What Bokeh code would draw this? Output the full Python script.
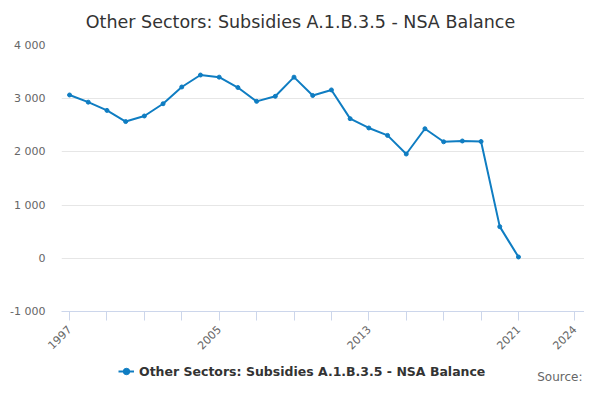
from bokeh.plotting import figure
from bokeh.layouts import column
from bokeh.models import ColumnDataSource, FixedTicker, Legend, LegendItem, Label, Range1d
from bokeh.embed import file_html
from bokeh.resources import INLINE

# Other Sectors: Subsidies A.1.B.3.5 - NSA Balance, yearly
years = list(range(1997, 2022))
balance = [3070, 2935, 2780, 2570, 2675, 2905, 3220, 3445, 3405, 3210,
           2950, 3045, 3405, 3060, 3165, 2625, 2450, 2310, 1960, 2435,
           2190, 2205, 2195, 595, 25]

x_ticks = [1997, 1999, 2001, 2003, 2005, 2007, 2009, 2011, 2013, 2015,
           2017, 2019, 2021, 2024]
x_labelled = [1997, 2005, 2013, 2021, 2024]
y_ticks = [-1000, 0, 1000, 2000, 3000, 4000]
y_labels = ["-1 000", "0", "1 000", "2 000", "3 000", "4 000"]

series_name = "Other Sectors: Subsidies A.1.B.3.5 - NSA Balance"
blue = "#0f7dc2"
font = "DejaVu Sans"

source = ColumnDataSource(data=dict(year=years, balance=balance))


def strip(height):
    # bare figure used only to hold text above / below the chart
    # (column() lines its frame up with the chart's frame, so x is from x=61)
    s = figure(width=584, height=height, x_range=Range1d(0, 1), y_range=Range1d(0, 1),
               x_axis_location=None, y_axis_location=None,
               tools="", toolbar_location=None, min_border=0,
               outline_line_color=None, output_backend="svg")
    s.grid.visible = False
    return s


# title strip
t = strip(37)
t.add_layout(Label(x=239, y=16, x_units="screen", y_units="screen",
                   text=series_name, text_align="center", text_baseline="alphabetic",
                   text_font=font, text_font_size="17.5px", text_color="#333333"))

p = figure(
    frame_width=523,
    frame_height=266,
    x_range=Range1d(1996.57, 2024.53),
    y_range=Range1d(-1000, 4000),
    tools="",
    toolbar_location=None,
    min_border_left=61,
    min_border_right=0,
    min_border_top=8,
    min_border_bottom=43,
    outline_line_color=None,
    output_backend="svg")

p.line(x="year", y="balance", source=source, line_color=blue, line_width=2)
p.scatter(x="year", y="balance", source=source, size=4,
          fill_color=blue, line_color=blue)

# x axis
p.xaxis.ticker = FixedTicker(ticks=x_ticks)
p.xaxis.major_label_overrides = {t: (str(t) if t in x_labelled else "") for t in x_ticks}
p.xaxis.major_label_orientation = 0.785398
p.xaxis.axis_line_color = "#ccd6eb"
p.xaxis.major_tick_line_color = "#ccd6eb"
p.xaxis.major_tick_in = 0
p.xaxis.major_tick_out = 9
p.xaxis.minor_tick_line_color = None
p.xaxis.major_label_text_font = font
p.xaxis.major_label_text_font_size = "11px"
p.xaxis.major_label_text_color = "#666666"
p.xaxis.major_label_standoff = 7

# y axis
p.yaxis.ticker = FixedTicker(ticks=y_ticks)
p.yaxis.major_label_overrides = dict(zip(y_ticks, y_labels))
p.yaxis.axis_line_color = None
p.yaxis.major_tick_line_color = None
p.yaxis.minor_tick_line_color = None
p.yaxis.major_tick_out = 0
p.yaxis.major_tick_in = 0
p.yaxis.major_label_standoff = 16
p.yaxis.major_label_text_font = font
p.yaxis.major_label_text_font_size = "11px"
p.yaxis.major_label_text_color = "#666666"

p.xgrid.grid_line_color = None
p.ygrid.grid_line_color = "#e6e6e6"

# legend strip underneath: same series, drawn outside its (empty) ranges
f = strip(30)
leg_line = f.line(x="year", y="balance", source=source, line_color=blue, line_width=2)
leg_dots = f.scatter(x="year", y="balance", source=source, size=4,
                     fill_color=blue, line_color=blue)

legend = Legend(items=[LegendItem(label=series_name, renderers=[leg_line, leg_dots])],
                orientation="horizontal", location=(57, 6),
                label_text_font=font, label_text_font_size="12.5px",
                label_text_font_style="bold", label_text_color="#333333",
                border_line_color=None, background_fill_alpha=0,
                glyph_width=16, glyph_height=16, label_height=16,
                label_standoff=5, padding=0, margin=0)
f.add_layout(legend, "center")

f.add_layout(Label(x=521, y=9, x_units="screen", y_units="screen",
                   text="Source:", text_align="right", text_baseline="alphabetic",
                   text_font=font, text_font_size="12px", text_color="#666666"))

layout = column(t, p, f, spacing=0)

open("out.html", "w").write(file_html(layout, INLINE))
